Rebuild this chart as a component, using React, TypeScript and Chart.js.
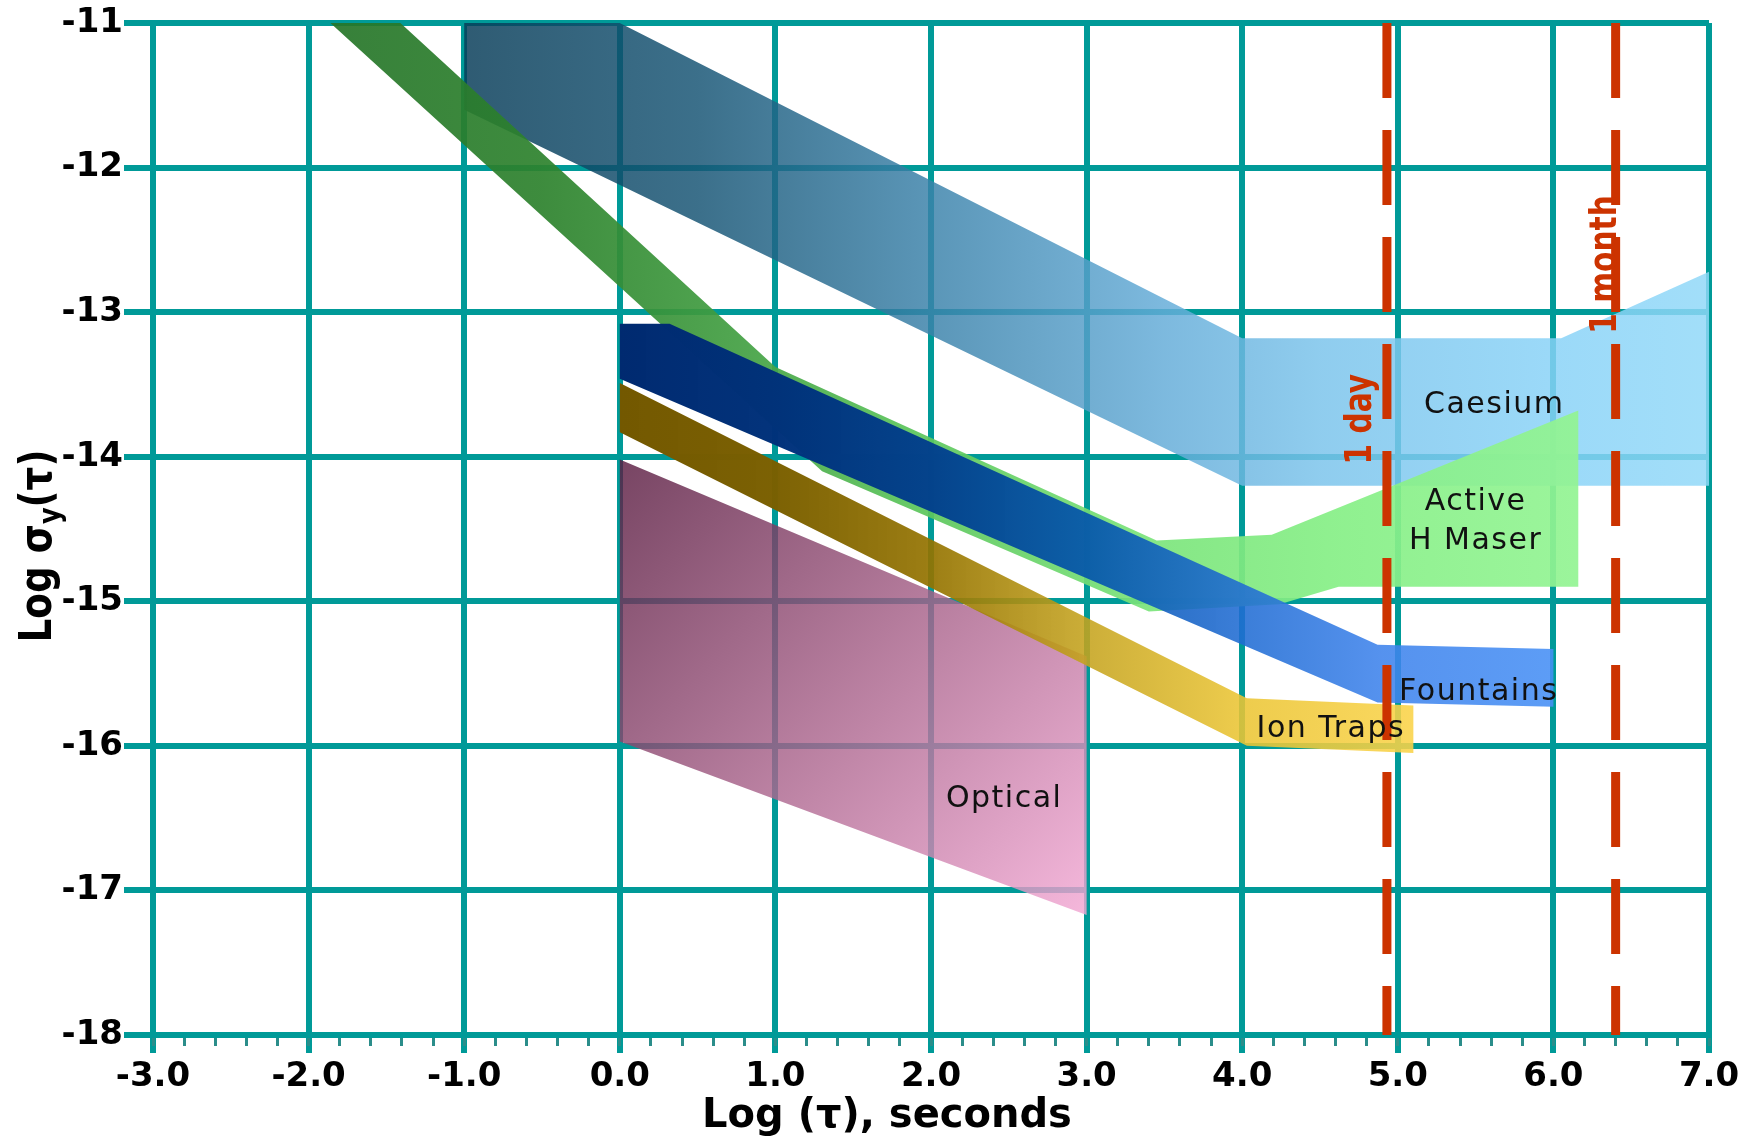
import React, { useEffect, useRef } from "react";
import { Chart, registerables } from "chart.js";

Chart.register(...registerables);

const CANVAS_W = 1752;
const CANVAS_H = 1137;

// ---- axes ----
const xMin = -3;
const xMax = 7;
const yMin = -18;
const yMax = -11;
const xTickLabels = ["-3.0", "-2.0", "-1.0", "0.0", "1.0", "2.0", "3.0", "4.0", "5.0", "6.0", "7.0"];
const yTickLabels = ["-18", "-17", "-16", "-15", "-14", "-13", "-12", "-11"];
const xTitle = "Log (τ), seconds";

// ---- band outlines (log tau, log sigma) ----
const caesiumX = [-1, 0, 4.0, 6.05, 7, 7, 4.0, -1, -1];
const caesiumY = [-11, -11, -13.18, -13.18, -12.72, -14.2, -14.2, -11.6, -11];

const maserX = [-1.86, -1.41, 1.0, 3.45, 4.19, 6.16, 6.16, 4.62, 4.24, 3.4, 1.3, -1.86];
const maserY = [-11, -11, -13.38, -14.58, -14.54, -13.68, -14.9, -14.9, -15.02, -15.07, -14.1, -11];

const fountainsX = [0, 0.32, 4.87, 6.0, 6.0, 4.87, 0, 0];
const fountainsY = [-13.08, -13.08, -15.3, -15.33, -15.73, -15.7, -13.46, -13.08];

const ionX = [0, 4.03, 5.1, 5.1, 4.03, 0, 0];
const ionY = [-13.49, -15.67, -15.72, -16.05, -16.0, -13.83, -13.49];

const opticalX = [0, 3, 3, 0, 0];
const opticalY = [-14.02, -15.38, -17.17, -15.97, -14.02];

// ---- time markers ----
const markerX = [4.93, 6.4];
const markerLabels = ["1 day", "1 month"];
const markerLabelX = [4.83, 6.4];
const markerLabelY = [-13.74, -12.67];

// ---- band labels ----
const labelText = ["Caesium", "Active", "H Maser", "Fountains", "Ion Traps", "Optical"];
const labelX = [5.62, 5.5, 5.5, 5.52, 4.57, 2.47];
const labelY = [-13.7, -14.37, -14.64, -15.68, -15.94, -16.42];

// ---- styles ----
const TEAL = "#009a98";
const RED = "#cc3300";
const FONT = "'DejaVu Sans'";

type Stop = [number, string];
const caesiumStops: Stop[] = [[-1, "#2f5b73"], [0.5, "#3b6f8a"], [2, "#5a96b8"], [3.5, "#7db9de"], [4.5, "#8fcdee"], [6, "#9bd9f8"], [7, "#a2def9"]];
const maserStops: Stop[] = [[-1.9, "#37803a"], [-0.5, "#3e8c3e"], [0.8, "#52a852"], [1.8, "#66c866"], [3.4, "#86e686"], [4.6, "#90f090"], [6.2, "#9cf59c"]];
const fountainsStops: Stop[] = [[0, "#002a70"], [1, "#03337c"], [2, "#0b4592"], [3, "#1c63b6"], [4, "#3b7ed8"], [4.9, "#5592ee"], [6, "#5c9cf6"]];
const ionStops: Stop[] = [[0, "#735800"], [1, "#7c6204"], [2, "#9c7e14"], [3, "#ccae38"], [4, "#edcc4c"], [5.1, "#fbd85e"]];
const opticalStops: [number, string][] = [[0, "#774462"], [0.5, "#b87e9f"], [1, "#f5b8dc"]];

function hexRgb(hex: string) {
  const n = parseInt(hex.slice(1), 16);
  return [(n >> 16) & 255, (n >> 8) & 255, n & 255];
}
// colour that looks like `hex` when laid over white with some transparency
function seen(hex: string, base = 0.84) {
  const [r, g, b] = hexRgb(hex);
  const a = Math.min(1, Math.max(base, 1 - Math.min(r, g, b) / 255));
  const f = (c: number) => Math.max(0, Math.min(255, Math.round((c - (1 - a) * 255) / a)));
  return `rgba(${f(r)},${f(g)},${f(b)},${a.toFixed(3)})`;
}

function xGradient(stops: Stop[], base = 0.84) {
  return (c: any) => {
    const chart = c.chart;
    const xs = chart.scales && chart.scales.x;
    if (!chart.chartArea || !xs) return seen(stops[0][1], base);
    const p0 = xs.getPixelForValue(stops[0][0]);
    const p1 = xs.getPixelForValue(stops[stops.length - 1][0]);
    const g = chart.ctx.createLinearGradient(p0, 0, p1, 0);
    for (const [v, col] of stops) {
      const t = (xs.getPixelForValue(v) - p0) / (p1 - p0);
      g.addColorStop(Math.min(1, Math.max(0, t)), seen(col, base));
    }
    return g;
  };
}

function diagGradient(x0: number, y0: number, x1: number, y1: number, stops: [number, string][]) {
  return (c: any) => {
    const chart = c.chart;
    const xs = chart.scales && chart.scales.x;
    const ys = chart.scales && chart.scales.y;
    if (!chart.chartArea || !xs || !ys) return seen(stops[0][1], 0.82);
    const g = chart.ctx.createLinearGradient(
      xs.getPixelForValue(x0), ys.getPixelForValue(y0),
      xs.getPixelForValue(x1), ys.getPixelForValue(y1)
    );
    for (const [t, col] of stops) g.addColorStop(t, seen(col, 0.82));
    return g;
  };
}

const pts = (xs: number[], ys: number[]) => xs.map((x, i) => ({ x, y: ys[i] }));

function band(label: string, xs: number[], ys: number[], bg: any, order: number) {
  return {
    type: "line" as const,
    label,
    data: pts(xs, ys),
    xAxisID: "x",
    yAxisID: "y",
    backgroundColor: bg,
    borderColor: "rgba(0,0,0,0)",
    borderWidth: 0,
    pointRadius: 0,
    tension: 0,
    fill: "shape",
    order,
  };
}

function marker(i: number) {
  return {
    type: "line" as const,
    label: markerLabels[i],
    data: [{ x: markerX[i], y: yMax }, { x: markerX[i], y: yMin }],
    xAxisID: "x",
    yAxisID: "y",
    borderColor: RED,
    borderWidth: 9,
    borderDash: [75, 32],
    borderCapStyle: "butt",
    pointRadius: 0,
    fill: false,
    order: 0,
  };
}

const textPlugin = {
  id: "bandTexts",
  afterDatasetsDraw(chart: any) {
    const { ctx } = chart;
    const xs = chart.scales.x;
    const ys = chart.scales.y;
    ctx.save();
    ctx.fillStyle = "#111";
    ctx.font = `30px ${FONT}`;
    (ctx as any).letterSpacing = "1.5px";
    ctx.textAlign = "center";
    ctx.textBaseline = "alphabetic";
    labelText.forEach((t, i) => {
      ctx.fillText(t, xs.getPixelForValue(labelX[i]), ys.getPixelForValue(labelY[i]));
    });
    (ctx as any).letterSpacing = "0px";
    ctx.fillStyle = RED;
    ctx.font = `bold 38px ${FONT}`;
    markerLabels.forEach((t, i) => {
      ctx.save();
      ctx.translate(xs.getPixelForValue(markerLabelX[i]), ys.getPixelForValue(markerLabelY[i]));
      ctx.rotate(-Math.PI / 2);
      ctx.scale(0.78, 1);
      ctx.textAlign = "center";
      ctx.fillText(t, 0, 0);
      ctx.restore();
    });
    ctx.restore();
  },
  afterDraw(chart: any) {
    const { ctx, chartArea } = chart;
    ctx.save();
    ctx.fillStyle = "#000";
    ctx.font = `bold 40px ${FONT}`;
    ctx.textAlign = "center";
    ctx.textBaseline = "alphabetic";
    ctx.fillText(xTitle, (chartArea.left + chartArea.right) / 2 - 44, chartArea.bottom + 92);

    // y title with subscript
    ctx.translate(51, (chartArea.top + chartArea.bottom) / 2 + 17);
    ctx.rotate(-Math.PI / 2);
    ctx.scale(0.85, 1);
    const big = `bold 44px ${FONT}`;
    const small = `bold 30px ${FONT}`;
    const parts: [string, string, number][] = [["Log σ", big, 0], ["y", small, 9], ["(τ)", big, 0]];
    let total = 0;
    parts.forEach(([t, f]) => { ctx.font = f; total += ctx.measureText(t).width; });
    let cx = -total / 2;
    ctx.textAlign = "left";
    parts.forEach(([t, f, dy]) => {
      ctx.font = f;
      ctx.fillText(t, cx, dy);
      cx += ctx.measureText(t).width;
    });
    ctx.restore();
  },
};

export default function App() {
  const ref = useRef<HTMLCanvasElement | null>(null);

  useEffect(() => {
    if (!ref.current) return;
    const tickFont = { family: FONT, size: 34, weight: "bold" as const };
    const chart = new Chart(ref.current, {
      type: "line",
      data: {
        datasets: [
          band("Caesium", caesiumX, caesiumY, xGradient(caesiumStops, 0.84), 5),
          band("Optical", opticalX, opticalY, diagGradient(0, -14, 3, -17.2, opticalStops), 4),
          band("Active H Maser", maserX, maserY, xGradient(maserStops, 0.92), 3),
          band("Fountains", fountainsX, fountainsY, xGradient(fountainsStops, 0.88), 2),
          band("Ion Traps", ionX, ionY, xGradient(ionStops, 0.88), 1),
          marker(0),
          marker(1),
        ] as any,
      },
      options: {
        responsive: false,
        animation: false,
        devicePixelRatio: 1,
        events: [],
        layout: { padding: { left: 0, top: 23, right: 43, bottom: 0 }, autoPadding: false },
        plugins: {
          legend: { display: false },
          tooltip: { enabled: false },
          title: { display: false },
        },
        scales: {
          x: {
            type: "linear",
            position: "bottom",
            min: xMin,
            max: xMax,
            ticks: {
              stepSize: 1,
              autoSkip: false,
              maxRotation: 0,
              padding: 4,
              color: "#000",
              font: tickFont,
              callback: (_v: any, i: number) => xTickLabels[i],
            },
            grid: { color: TEAL, lineWidth: 6, tickLength: 18, tickColor: TEAL, tickWidth: 6 },
            border: { color: TEAL, width: 6 },
            afterFit: (s: any) => { s.height = CANVAS_H - 1035; },
          },
          x2: {
            type: "linear",
            position: "bottom",
            weight: -5,
            min: xMin,
            max: xMax,
            ticks: { display: false, stepSize: 0.2, autoSkip: false },
            grid: { drawOnChartArea: false, drawTicks: true, tickLength: 11, tickColor: "#2b8d8a", tickWidth: 3 },
            border: { display: false },
            afterFit: (s: any) => { s.height = 0; },
          },
          y: {
            type: "linear",
            position: "left",
            min: yMin,
            max: yMax,
            ticks: {
              stepSize: 1,
              padding: 1,
              color: "#000",
              font: tickFont,
              callback: (_v: any, i: number) => yTickLabels[i],
            },
            grid: { color: TEAL, lineWidth: 6, tickLength: 29, tickColor: TEAL, tickWidth: 6 },
            border: { color: TEAL, width: 6 },
            afterFit: (s: any) => { s.width = 153; },
          },
        },
      } as any,
      plugins: [textPlugin],
    });
    return () => chart.destroy();
  }, []);

  return (
    <div style={{ position: "absolute", left: 0, top: 0, width: CANVAS_W, height: CANVAS_H, background: "#fff" }}>
      <canvas ref={ref} width={CANVAS_W} height={CANVAS_H} style={{ display: "block", width: CANVAS_W, height: CANVAS_H }} />
    </div>
  );
}
